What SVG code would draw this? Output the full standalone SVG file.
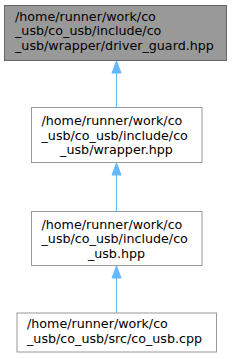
<svg xmlns="http://www.w3.org/2000/svg" width="233" height="359" viewBox="0 0 233 359">
<style>
.n rect{fill:#ffffff;stroke:#999999;stroke-width:1}
#node1 rect{fill:#999999;stroke:#666666}
text{font-family:"DejaVu Sans",sans-serif;font-size:12.7px;fill:#000000}
.c{text-anchor:middle}
.e line{stroke:#63b8ff;stroke-width:1}
.e polygon{fill:#63b8ff;stroke:#63b8ff;stroke-width:1}
</style>
<g class="e" id="edges">
<line x1="116.5" y1="107.5" x2="116.5" y2="72"/>
<polygon points="116.5,61 121,73 112,73"/>
<line x1="116.5" y1="211.5" x2="116.5" y2="175"/>
<polygon points="116.5,163 121,175 112,175"/>
<line x1="116.5" y1="313" x2="116.5" y2="278"/>
<polygon points="116.5,266 121,278 112,278"/>
</g>
<g class="n" id="node1">
<rect x="4.5" y="5.5" width="222" height="55"/>
<text x="15" y="20.7">/home/runner/work/co</text>
<text x="15" y="35.2">_usb/co_usb/include/co</text>
<text x="15" y="49.7">_usb/wrapper/driver_guard.hpp</text>
</g>
<g class="n" id="node2">
<rect x="31.5" y="107.5" width="170.5" height="55"/>
<text x="41.5" y="125">/home/runner/work/co</text>
<text x="41.5" y="139.5">_usb/co_usb/include/co</text>
<text class="c" x="116.5" y="154">_usb/wrapper.hpp</text>
</g>
<g class="n" id="node3">
<rect x="31.5" y="211.5" width="170.5" height="54"/>
<text x="41.5" y="228.5">/home/runner/work/co</text>
<text x="41.5" y="243">_usb/co_usb/include/co</text>
<text class="c" x="116.5" y="257.5">_usb.hpp</text>
</g>
<g class="n" id="node4">
<rect x="17" y="313" width="199.5" height="39"/>
<text x="27" y="328">/home/runner/work/co</text>
<text x="27" y="343">_usb/co_usb/src/co_usb.cpp</text>
</g>
</svg>
